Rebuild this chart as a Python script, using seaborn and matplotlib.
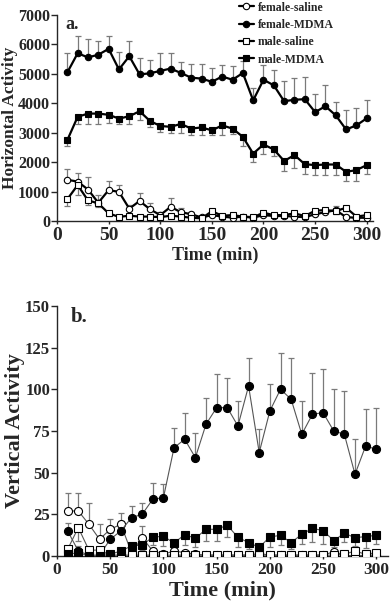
import numpy as np
import pandas as pd
import seaborn as sns
import matplotlib.pyplot as plt

time = list(range(10, 310, 10))
groups = ['female-saline', 'female-MDMA', 'male-saline', 'male-MDMA']

# horizontal activity (panel a)
fsal_h = [1400, 1340, 1070, 620, 1050, 990, 420, 680, 400, 200, 480, 300, 230, 120, 200,
          150, 113, 150, 113, 200, 170, 170, 150, 130, 230, 300, 370, 130, 110, 110]
fsal_h_err = [360, 300, 420, 260, 300, 250, 120, 270, 200, 100, 310, 150, 80, 60, 60,
              60, 50, 50, 50, 60, 60, 60, 60, 60, 80, 80, 140, 60, 50, 50]
fmdma_h = [5050, 5700, 5560, 5650, 5850, 5150, 5600, 4980, 5020, 5100, 5180, 5030, 4870, 4840, 4730,
           4910, 4800, 5030, 4100, 4800, 4610, 4070, 4120, 4140, 3700, 3900, 3590, 3110, 3250, 3490]
fmdma_h_err = [670, 600, 640, 450, 450, 600, 500, 570, 450, 620, 520, 370, 470, 500, 480,
               400, 480, 400, 420, 510, 510, 700, 750, 750, 620, 720, 470, 650, 590, 610]
msal_h = [740, 1220, 700, 600, 260, 140, 180, 150, 150, 130, 180, 150, 110, 90, 330,
          180, 200, 150, 130, 280, 200, 200, 260, 170, 350, 370, 340, 450, 150, 200]
msal_h_err = [220, 350, 150, 140, 80, 60, 60, 50, 50, 50, 60, 50, 40, 40, 90,
              60, 60, 50, 40, 80, 60, 60, 60, 50, 90, 100, 100, 100, 60, 60]
mmdma_h = [2750, 3540, 3650, 3650, 3610, 3480, 3560, 3730, 3400, 3230, 3200, 3300, 3140, 3180, 3080,
           3250, 3140, 2860, 2290, 2600, 2430, 2040, 2240, 1930, 1900, 1920, 1920, 1670, 1730, 1900]
mmdma_h_err = [210, 250, 350, 350, 280, 180, 250, 300, 200, 200, 200, 300, 220, 260, 160,
               330, 200, 320, 280, 310, 220, 330, 450, 340, 340, 360, 360, 310, 370, 310]

# vertical activity (panel b)
fsal_v = [27, 27, 19, 10, 16, 19, 2, 11, 3, 1, 3, 2, 1, 0.5, 0.5,
          0.5, 0.5, 0.5, 1.5, 0.5, 0.5, 0.5, 0.5, 0.5, 0.5, 2.5, 0.5, 0, 0.5, 0.5]
fsal_v_err = [11, 11, 13, 9, 6, 7, 2, 7, 2, 1, 2, 1, 1, 0.5, 0.5,
              0.5, 0.5, 0.5, 1, 0.5, 0.5, 0.5, 0.5, 0.5, 0.5, 1, 0.5, 0.5, 0.5, 0.5]
fmdma_v = [15, 3, 0.5, 0.5, 10, 15, 23, 25, 34, 35, 65, 70, 59, 79, 89,
           89, 78, 102, 62, 87, 100, 94, 73, 85, 86, 75, 73, 49, 66, 64]
fmdma_v_err = [5, 3, 1, 1, 4, 6, 7, 7, 10, 8, 12, 16, 15, 16, 20,
               18, 15, 17, 14, 16, 22, 25, 20, 25, 26, 25, 26, 21, 22, 25]
msal_v = [4, 17, 3.5, 3.5, 0.5, 0.5, 0.5, 0.5, 0.5, 0.5, 0.5, 0.5, 0.5, 0.5, 0.5,
          0.5, 0.5, 0.5, 0.5, 0.5, 0.5, 0.5, 0.5, 0.5, 0.5, 0.5, 1, 3, 1, 2]
msal_v_err = [3.5, 8, 3, 3, 0.5, 0.5, 0.5, 0.5, 0.5, 0.5, 0.5, 0.5, 0.5, 0.5, 0.5,
              0.5, 0.5, 0.5, 0.5, 0.5, 0.5, 0.5, 0.5, 0.5, 0.5, 0.5, 1, 2, 1, 1]
mmdma_v = [1, 2, 0, 0, 1, 3, 6, 6.6, 11.3, 11.8, 7.8, 12.8, 10.6, 16, 16,
           18.4, 11.2, 8, 5.2, 11.4, 12.4, 8, 13, 16.6, 15.2, 9.2, 13.6, 11, 11.6, 12.4]
mmdma_v_err = [1, 2, 0, 0, 1, 2, 3, 3, 5, 6, 4, 6, 5, 7, 7,
               7, 6, 4, 3, 6, 6, 4, 6, 8, 8, 4, 5, 5, 7, 5]

sns.set_style('ticks')
plt.rcParams['font.family'] = ['Liberation Serif', 'DejaVu Serif']
plt.rcParams['font.weight'] = 'bold'

fig = plt.figure(figsize=(3.91, 6.03), dpi=100)
ax1 = fig.add_axes([0.1458, 0.6335, 0.808, 0.3416])
ax2 = fig.add_axes([0.1458, 0.078, 0.8465, 0.4146])


def draw(ax, y, err, up, marker, filled, label, lw, lcolor, ms):
    zeros = np.zeros(len(err))
    yerr = [zeros, err] if up else [err, zeros]
    ax.errorbar(time, y, yerr=yerr, fmt='none', ecolor='#7a7a7a', elinewidth=0.9,
                capsize=2.5, capthick=0.9, zorder=1)
    sns.lineplot(x=time, y=y, ax=ax, color=lcolor, lw=lw, marker=marker, markersize=ms,
                 markerfacecolor='black' if filled else 'white', markeredgecolor='black',
                 markeredgewidth=0.8, label=label, zorder=3)


# panel a
draw(ax1, fsal_h, fsal_h_err, True, 'o', False, groups[0], 1.6, 'black', 4.6)
draw(ax1, fmdma_h, fmdma_h_err, True, 'o', True, groups[1], 1.6, 'black', 4.6)
draw(ax1, msal_h, msal_h_err, False, 's', False, groups[2], 1.6, 'black', 4.4)
draw(ax1, mmdma_h, mmdma_h_err, False, 's', True, groups[3], 1.6, 'black', 4.4)

# panel b
draw(ax2, fsal_v, fsal_v_err, True, 'o', False, groups[0], 0.8, '#555555', 5.8)
draw(ax2, fmdma_v, fmdma_v_err, True, 'o', True, groups[1], 0.8, '#555555', 5.8)
draw(ax2, msal_v, msal_v_err, False, 's', False, groups[2], 0.8, '#555555', 5.5)
draw(ax2, mmdma_v, mmdma_v_err, False, 's', True, groups[3], 0.8, '#555555', 5.5)

ax2.get_legend().remove()
ax1.legend(loc='upper left', bbox_to_anchor=(0.575, 1.065), frameon=False,
           prop={'size': 8.5, 'weight': 'bold'}, handlelength=1.3, handletextpad=0.3,
           labelspacing=0.45, borderaxespad=0, borderpad=0)

ax1.set_xlim(0, 306)
ax1.set_ylim(0, 7000)
ax1.set_xticks([0, 50, 100, 150, 200, 250, 300])
ax1.set_yticks(range(0, 7001, 1000))
ax1.tick_params(axis='x', labelsize=14, length=2, width=1, pad=2)
ax1.tick_params(axis='y', labelsize=11.5, length=4, width=1, pad=1)
ax1.set_xlabel('Time (min)', fontsize=13, fontweight='bold', labelpad=2)
ax1.set_ylabel('Horizontal Activity', fontsize=12.5, fontweight='bold', labelpad=0)
ax1.text(0.025, 0.995, 'a.', transform=ax1.transAxes, va='top', fontsize=13, fontweight='bold')

ax2.set_xlim(0, 311)
ax2.set_ylim(0, 150)
ax2.set_xticks([0, 50, 100, 150, 200, 250, 300])
ax2.set_yticks([0, 25, 50, 75, 100, 125, 150])
ax2.tick_params(axis='x', labelsize=12.5, length=2, width=1, pad=2)
ax2.tick_params(axis='y', labelsize=12, length=4, width=1, pad=1)
ax2.set_xlabel('Time (min)', fontsize=16, fontweight='bold', labelpad=2)
ax2.set_ylabel('Vertical Activity', fontsize=16, fontweight='bold', labelpad=0)
ax2.text(0.04, 0.995, 'b.', transform=ax2.transAxes, va='top', fontsize=15, fontweight='bold')

for ax in (ax1, ax2):
    sns.despine(ax=ax)
    ax.spines['left'].set_linewidth(1.0)
    ax.spines['bottom'].set_linewidth(1.0)

fig.savefig('out.png', dpi=100)
